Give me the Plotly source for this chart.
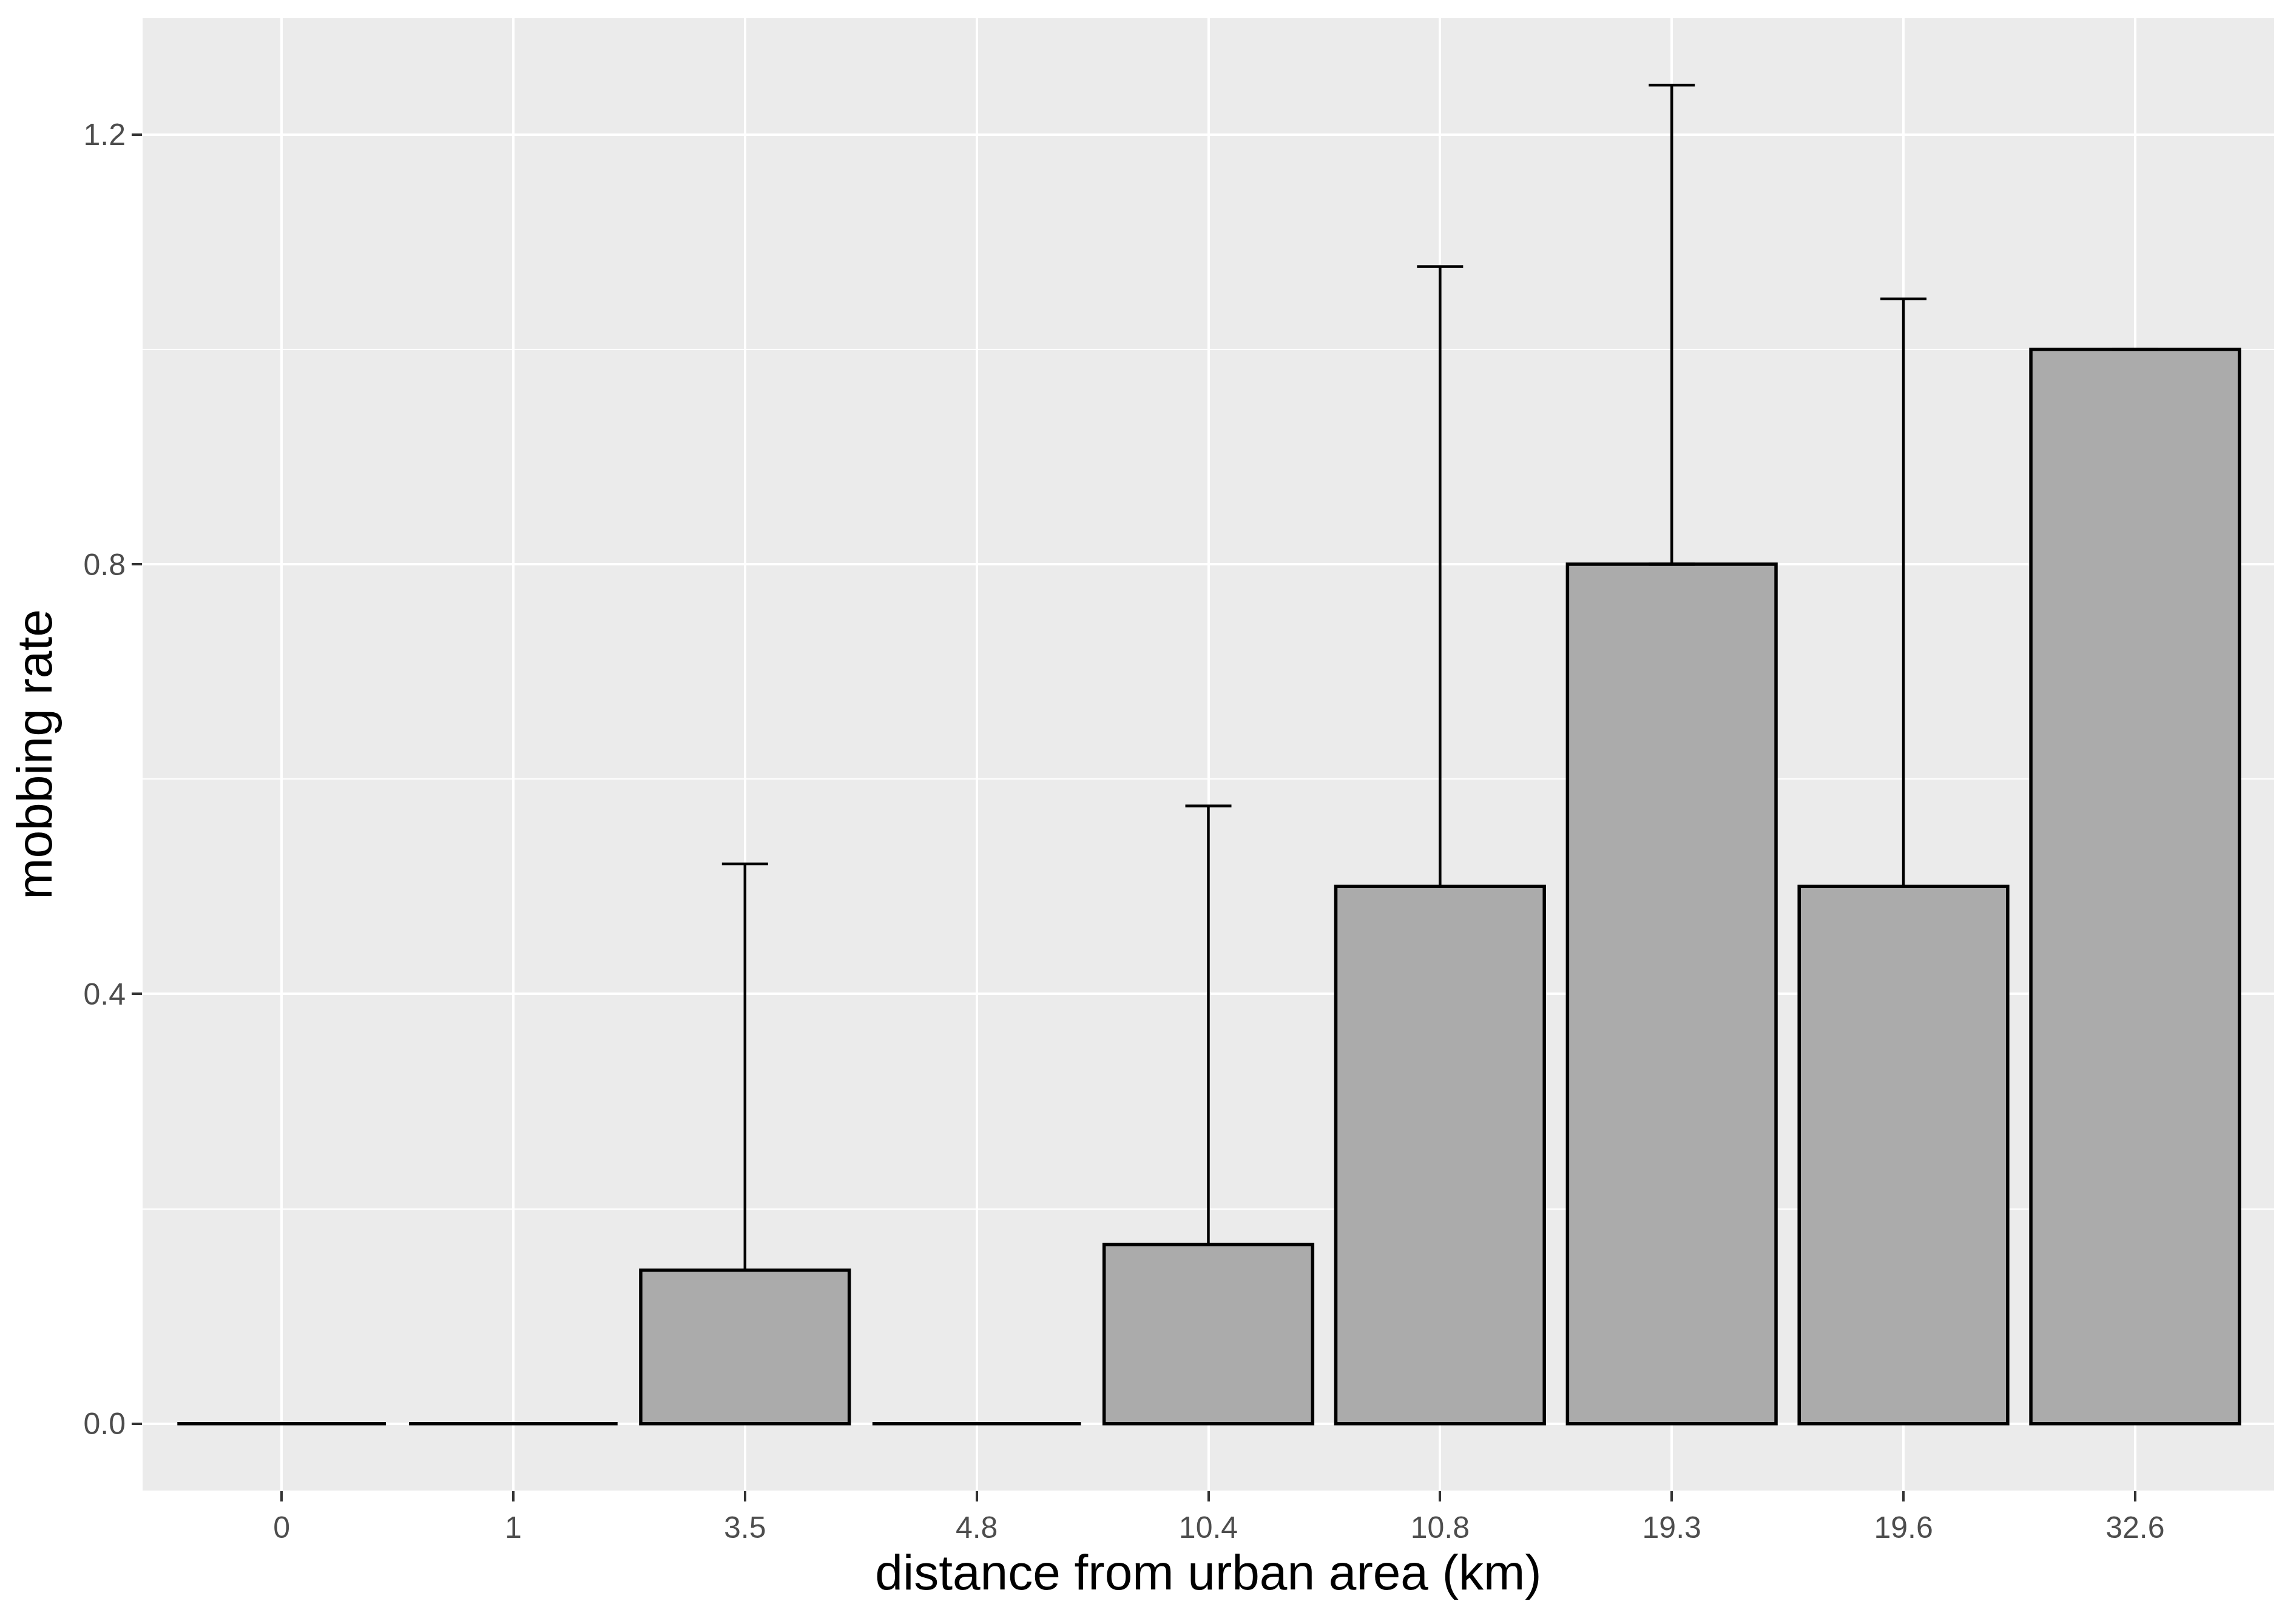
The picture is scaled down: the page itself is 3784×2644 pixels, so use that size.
import plotly.graph_objects as go

categories = ["0", "1", "3.5", "4.8", "10.4", "10.8", "19.3", "19.6", "32.6"]
rate = [0.0, 0.0, 0.1429, 0.0, 0.1667, 0.5, 0.8, 0.5, 1.0]
upper = [None, None, 0.521, None, 0.575, 1.077, 1.246, 1.047, None]
y_ticks = [0.0, 0.4, 0.8, 1.2]
y_ticklabels = ["0.0", "0.4", "0.8", "1.2"]

err_plus = [(u - r) if u is not None else None for u, r in zip(upper, rate)]
err_minus = [0 if u is not None else None for u in upper]

ymax = max(max(u for u in upper if u is not None), max(rate))
pad = 0.05 * ymax

fig = go.Figure()
fig.add_trace(go.Bar(
    x=categories,
    y=rate,
    marker=dict(color="#ABABAB", line=dict(color="black", width=5.5)),
    error_y=dict(type="data", symmetric=False, array=err_plus, arrayminus=err_minus,
                 color="black", thickness=4.5, width=38),
    showlegend=False,
))

fig.update_layout(
    width=3784, height=2644,
    margin=dict(l=227, r=44, t=22, b=195),
    paper_bgcolor="white",
    plot_bgcolor="#EBEBEB",
    bargap=0.1,
    font=dict(family="Liberation Sans, Arial, sans-serif", size=50, color="#4D4D4D"),
    xaxis=dict(
        type="category",
        range=[-0.6, len(categories) - 0.4],
        showgrid=True, gridcolor="white", gridwidth=4,
        ticks="outside", ticklen=17, tickwidth=4, tickcolor="#333333",
        tickfont=dict(size=50, color="#4D4D4D"),
        showline=False, zeroline=False,
        title=dict(text="distance from urban area (km)",
                   font=dict(size=82, color="black"), standoff=12),
    ),
    yaxis=dict(
        range=[-pad, ymax + pad],
        tickvals=y_ticks, ticktext=y_ticklabels,
        showgrid=True, gridcolor="white", gridwidth=4,
        minor=dict(dtick=0.2, tick0=0, showgrid=True, gridcolor="white", gridwidth=2),
        ticks="outside", ticklen=17, tickwidth=4, tickcolor="#333333",
        tickfont=dict(size=50, color="#4D4D4D"),
        showline=False, zeroline=False,
        title=dict(text="mobbing rate", font=dict(size=82, color="black"), standoff=24),
    ),
)

fig.write_html("out.html")
